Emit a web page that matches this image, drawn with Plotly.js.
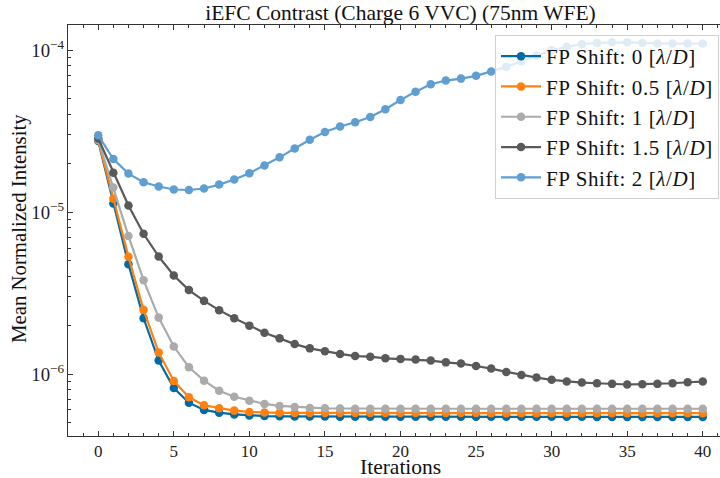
<!DOCTYPE html>
<html><head><meta charset="utf-8">
<script src="https://cdn.plot.ly/plotly-3.0.1.min.js"></script>
<style>html,body{margin:0;padding:0;overflow:hidden;background:#fff}#wrap{width:720px;height:478px;overflow:hidden}#chart{width:733px;height:478px}.legendtext{letter-spacing:0.6px}</style>
</head><body><div id="wrap"><div id="chart"></div></div>
<script>
const iterations=[0,1,2,3,4,5,6,7,8,9,10,11,12,13,14,15,16,17,18,19,20,21,22,23,24,25,26,27,28,29,30,31,32,33,34,35,36,37,38,39,40];
const seriesNames=['FP Shift: 0 [<i>λ</i>/<i>D</i>]','FP Shift: 0.5 [<i>λ</i>/<i>D</i>]','FP Shift: 1 [<i>λ</i>/<i>D</i>]','FP Shift: 1.5 [<i>λ</i>/<i>D</i>]','FP Shift: 2 [<i>λ</i>/<i>D</i>]'];
const shift0=[2.75e-5,1.13e-5,4.77e-6,2.21e-6,1.21e-6,8.19e-7,6.65e-7,6.00e-7,5.77e-7,5.63e-7,5.55e-7,5.50e-7,5.48e-7,5.47e-7,5.46e-7,5.46e-7,5.45e-7,5.45e-7,5.45e-7,5.45e-7,5.45e-7,5.45e-7,5.44e-7,5.44e-7,5.44e-7,5.44e-7,5.44e-7,5.44e-7,5.44e-7,5.44e-7,5.44e-7,5.44e-7,5.44e-7,5.43e-7,5.43e-7,5.43e-7,5.43e-7,5.43e-7,5.43e-7,5.43e-7,5.43e-7];
const shift05=[2.78e-5,1.21e-5,5.30e-6,2.49e-6,1.36e-6,9.06e-7,7.18e-7,6.41e-7,6.14e-7,5.94e-7,5.83e-7,5.78e-7,5.76e-7,5.75e-7,5.75e-7,5.74e-7,5.74e-7,5.74e-7,5.74e-7,5.74e-7,5.74e-7,5.74e-7,5.74e-7,5.74e-7,5.74e-7,5.74e-7,5.73e-7,5.73e-7,5.73e-7,5.73e-7,5.73e-7,5.73e-7,5.73e-7,5.73e-7,5.73e-7,5.73e-7,5.73e-7,5.73e-7,5.73e-7,5.73e-7,5.73e-7];
const shift1=[2.80e-5,1.42e-5,7.11e-6,3.80e-6,2.23e-6,1.48e-6,1.10e-6,9.10e-7,7.89e-7,7.24e-7,6.84e-7,6.53e-7,6.35e-7,6.26e-7,6.17e-7,6.14e-7,6.12e-7,6.11e-7,6.11e-7,6.10e-7,6.10e-7,6.10e-7,6.10e-7,6.10e-7,6.10e-7,6.10e-7,6.10e-7,6.10e-7,6.10e-7,6.10e-7,6.10e-7,6.10e-7,6.10e-7,6.10e-7,6.10e-7,6.10e-7,6.10e-7,6.10e-7,6.10e-7,6.10e-7,6.10e-7];
const shift15=[2.85e-5,1.75e-5,1.10e-5,7.35e-6,5.32e-6,4.06e-6,3.30e-6,2.83e-6,2.48e-6,2.21e-6,1.99e-6,1.80e-6,1.66e-6,1.53e-6,1.44e-6,1.38e-6,1.33e-6,1.29e-6,1.28e-6,1.25e-6,1.24e-6,1.23e-6,1.21e-6,1.18e-6,1.16e-6,1.12e-6,1.08e-6,1.03e-6,9.87e-7,9.50e-7,9.20e-7,8.98e-7,8.85e-7,8.77e-7,8.69e-7,8.61e-7,8.65e-7,8.69e-7,8.77e-7,8.89e-7,8.98e-7];
const shift2=[2.98e-5,2.13e-5,1.73e-5,1.53e-5,1.44e-5,1.38e-5,1.37e-5,1.40e-5,1.48e-5,1.59e-5,1.74e-5,1.94e-5,2.18e-5,2.47e-5,2.80e-5,3.13e-5,3.38e-5,3.59e-5,3.87e-5,4.32e-5,4.93e-5,5.55e-5,6.17e-5,6.50e-5,6.68e-5,6.95e-5,7.38e-5,7.89e-5,8.55e-5,9.27e-5,1.00e-4,1.05e-4,1.09e-4,1.11e-4,1.12e-4,1.12e-4,1.11e-4,1.10e-4,1.10e-4,1.10e-4,1.10e-4];
const xTitle='Iterations';
const yTitle='Mean Normalized Intensity';
const chartTitle='iEFC Contrast (Charge 6 VVC) (75nm WFE)';
const colors=['#006BA4','#FF800E','#ABABAB','#595959','#5F9ED1'];
const allSeries=[shift0,shift05,shift1,shift15,shift2];

const traces=allSeries.map((ys,i)=>({
  x:iterations,y:ys,type:'scatter',mode:'lines+markers',name:seriesNames[i],
  line:{color:colors[i],width:2.2},
  marker:{color:colors[i],size:8.5}
}));

const axisCol='#333';
const layout={
  width:733,height:478,
  margin:{l:67.5,r:0,t:25,b:42,pad:0},
  paper_bgcolor:'#fff',plot_bgcolor:'#fff',
  font:{family:'"Liberation Serif", "DejaVu Serif", serif',color:'#111',size:16},
  showlegend:true,
  title:{text:chartTitle,font:{size:21.5,color:'#111'},x:0.5,xref:'paper',xanchor:'center',y:1-12/478,yref:'container',yanchor:'middle'},
  xaxis:{range:[-2,42],showgrid:false,zeroline:false,showline:true,linecolor:axisCol,linewidth:1,mirror:'ticks',
    ticks:'inside',ticklen:5,tickcolor:axisCol,tick0:0,dtick:5,tickfont:{size:17,color:'#222'},
    minor:{ticks:'inside',ticklen:3,dtick:1,tick0:0,tickcolor:axisCol,showgrid:false},
    title:{text:''},automargin:false},
  yaxis:{type:'log',range:[-6.383,-3.844],showgrid:false,zeroline:false,showline:true,linecolor:axisCol,linewidth:1,mirror:'ticks',
    ticks:'inside',ticklen:5,tickcolor:axisCol,dtick:1,exponentformat:'power',tickfont:{size:15,color:'#222'},
    minor:{ticks:'inside',ticklen:3,tickcolor:axisCol,showgrid:false},
    title:{text:''},automargin:false},
  annotations:[
    {text:xTitle,xref:'paper',yref:'paper',x:0.5,y:-42/411,xanchor:'center',yanchor:'bottom',yshift:-3,showarrow:false,font:{size:21.5,color:'#111'}},
    {text:yTitle,xref:'paper',yref:'paper',x:-67.5/665.5,y:0.5,xanchor:'left',yanchor:'middle',xshift:4,yshift:2,textangle:-90,showarrow:false,font:{size:20.8,color:'#111'}}
  ],
  legend:{x:0.979,xanchor:'right',y:(436-35)/411,yanchor:'top',bgcolor:'rgba(255,255,255,0.8)',bordercolor:'#d0d0d0',borderwidth:1,font:{size:21},itemwidth:40}
};
Plotly.newPlot('chart',traces,layout,{displayModeBar:false,staticPlot:true});
</script></body></html>
